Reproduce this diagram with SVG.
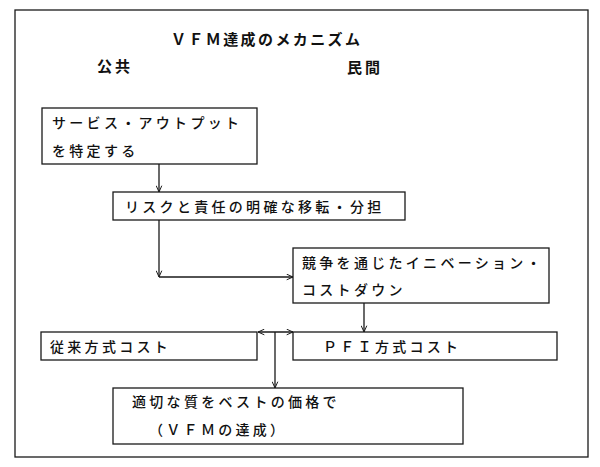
<svg xmlns="http://www.w3.org/2000/svg" width="600" height="467" viewBox="0 0 600 467">
<style>
.box{fill:#fff;stroke:#1a1a1a;stroke-width:1.3}
.t{font-family:"Noto Sans CJK JP","Noto Sans",sans-serif;font-size:14px;font-weight:500;letter-spacing:3.3px;fill:#111}
.ti{font-family:"Noto Sans CJK JP","Noto Sans",sans-serif;font-size:15px;font-weight:bold;letter-spacing:2.4px;fill:#111}
.h{font-family:"Noto Sans CJK JP","Noto Sans",sans-serif;font-size:15px;font-weight:bold;letter-spacing:3px;fill:#111}
.c{fill:none;stroke:#1a1a1a;stroke-width:1.3}
</style>
<defs>
<marker id="ah" viewBox="0 0 10 10" refX="10" refY="5" markerWidth="7" markerHeight="7" orient="auto-start-reverse" markerUnits="userSpaceOnUse">
<path d="M1,1 L10,5 L1,9" fill="none" stroke="#1a1a1a" stroke-width="1.4"/>
</marker>
</defs>
<rect width="600" height="467" fill="#fff"/>
<rect id="frame" x="15" y="10" width="573" height="447" fill="none" stroke="#1a1a1a" stroke-width="1.3"/>
<g id="title"><text class="ti" x="171" y="45">ＶＦＭ達成のメカニズム</text></g>
<g id="public"><text class="h" x="97" y="72">公共</text></g>
<g id="private"><text class="h" x="347" y="73">民間</text></g>
<g id="n1"><rect class="box" x="42" y="108" width="215" height="56"/><text class="t" x="52" y="128">サービス・アウトプット</text><text class="t" x="52" y="156">を特定する</text></g>
<g id="n2"><rect class="box" x="113" y="192" width="292" height="28"/><text class="t" x="125" y="212">リスクと責任の明確な移転・分担</text></g>
<g id="n3"><rect class="box" x="293" y="248" width="256" height="55"/><text class="t" x="302" y="268">競争を通じたイニベーション・</text><text class="t" x="302" y="295">コストダウン</text></g>
<g id="n4"><rect class="box" x="41" y="332" width="216" height="28"/><text class="t" x="50" y="352">従来方式コスト</text></g>
<g id="n5"><rect class="box" x="293" y="332" width="264" height="28"/><text class="t" x="323" y="352">ＰＦＩ方式コスト</text></g>
<g id="n6"><rect class="box" x="113" y="388" width="350" height="56"/><text class="t" x="132" y="407">適切な質をベストの価格で</text><text class="t" x="149" y="435">（ＶＦＭの達成）</text></g>
<g id="connectors">
<line class="c" x1="159" y1="164" x2="159" y2="192" marker-end="url(#ah)"/>
<line class="c" x1="159" y1="220" x2="159" y2="277" marker-end="url(#ah)"/>
<line class="c" x1="159" y1="277" x2="293" y2="277" marker-end="url(#ah)"/>
<line class="c" x1="364" y1="303" x2="364" y2="332" marker-end="url(#ah)"/>
<line class="c" x1="258" y1="332" x2="293" y2="332" marker-start="url(#ah)" marker-end="url(#ah)"/>
<line class="c" x1="275" y1="332" x2="275" y2="388" marker-end="url(#ah)"/>
</g>
</svg>
